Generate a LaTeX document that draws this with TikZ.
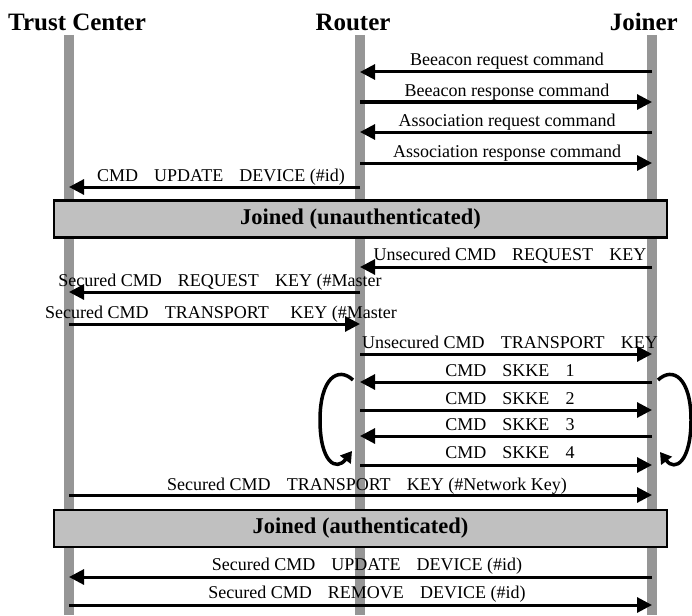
\documentclass[tikz,border=0pt]{standalone}
\usepackage{fontspec}
\setmainfont{Liberation Serif}
\usetikzlibrary{arrows.meta}
\definecolor{llgray}{RGB}{150,150,150}
\definecolor{boxgray}{RGB}{192,192,192}
\newcommand\gp{\hspace{0.9em}}
\begin{document}
\begin{tikzpicture}[x=1pt,y=-1pt,
  lifeline/.style={line width=10pt, draw=llgray},
  msg/.style={line width=3pt, -{Triangle[length=15pt,width=15pt]}},
  lab/.style={font=\fontsize{18}{20}\selectfont, anchor=base, inner sep=0pt},
  ttl/.style={font=\fontsize{25}{28}\selectfont\bfseries, anchor=base, inner sep=0pt},
  phase/.style={draw=black, line width=2.5pt, fill=boxgray, minimum width=613pt, minimum height=37pt, inner sep=0pt, font=\fontsize{22.5}{24}\selectfont\bfseries},
  cyc/.style={line width=3.5pt, -{Triangle[length=11pt,width=13pt]}}]
\useasboundingbox (0,0) rectangle (692,615);
% titles
\node[ttl, anchor=base west] (tTC) at (8,31) {Trust Center};
\node[ttl] (tR) at (353,31) {Router};
\node[ttl, anchor=base east] (tJ) at (678,31) {Joiner};
% lifelines
\coordinate (TC) at (69,35);
\coordinate (R) at (360,35);
\coordinate (J) at (652,35);
\coordinate (TCb) at (69,615);
\coordinate (Rb) at (360,615);
\coordinate (Jb) at (652,615);
\draw[lifeline] (TC) -- (TCb);
\draw[lifeline] (R) -- (Rb);
\draw[lifeline] (J) -- (Jb);
% messages
\draw[msg] (J |- 0,72) -- (R |- 0,72);
\node[lab] (l1) at (507,66) {Beeacon request command};
\draw[msg] (R |- 0,102) -- (J |- 0,102);
\node[lab] (l2) at (507,96) {Beeacon response command};
\draw[msg] (J |- 0,132) -- (R |- 0,132);
\node[lab] (l3) at (507,126) {Association request command};
\draw[msg] (R |- 0,163) -- (J |- 0,163);
\node[lab] (l4) at (507,157) {Association response command};
\draw[msg] (R |- 0,187) -- (TC |- 0,187);
\node[lab] (l5) at (221,181) {CMD\gp UPDATE\gp DEVICE (\#id)};
% phase 1
\node[phase] (p1) at (360.5,219) {Joined (unauthenticated)};
\draw[msg] (J |- 0,267) -- (R |- 0,267);
\node[lab] (l6) at (510,260) {Unsecured CMD\gp REQUEST\gp KEY};
\draw[msg] (R |- 0,292) -- (TC |- 0,292);
\node[lab] (l7) at (220,286) {Secured CMD\gp REQUEST\gp KEY (\#Master};
\draw[msg] (TC |- 0,324) -- (R |- 0,324);
\node[lab] (l8) at (221,318) {Secured CMD\gp TRANSPORT\hspace{1.2em}KEY (\#Master};
\draw[msg] (R |- 0,354) -- (J |- 0,354);
\node[lab] (l9) at (510,348) {Unsecured CMD\gp TRANSPORT\gp KEY};
\draw[msg] (J |- 0,382) -- (R |- 0,382);
\node[lab] (l10) at (510,376) {CMD\gp SKKE\gp 1};
\draw[msg] (R |- 0,410) -- (J |- 0,410);
\node[lab] (l11) at (510,404) {CMD\gp SKKE\gp 2};
\draw[msg] (J |- 0,436) -- (R |- 0,436);
\node[lab] (l12) at (510,430) {CMD\gp SKKE\gp 3};
\draw[msg] (R |- 0,465) -- (J |- 0,465);
\node[lab] (l13) at (510,458) {CMD\gp SKKE\gp 4};
% cycles
\coordinate (cl1) at (353,380);
\coordinate (cl2) at (352,451);
\coordinate (cr1) at (658,380);
\coordinate (cr2) at (660,452);
\draw[cyc] (cl1) .. controls (338,366) and (320,378) .. (320,420) .. controls (320,462) and (336,472) .. (cl2);
\draw[cyc] (cr1) .. controls (673,366) and (691,378) .. (691,420) .. controls (691,462) and (675,472) .. (cr2);
\draw[msg] (TC |- 0,495) -- (J |- 0,495);
\node[lab] (l14) at (367,490) {Secured CMD\gp TRANSPORT\gp KEY (\#Network Key)};
% phase 2
\node[phase] (p2) at (360.5,528.5) {Joined (authenticated)};
\draw[msg] (J |- 0,577) -- (TC |- 0,577);
\node[lab] (l15) at (367,570) {Secured CMD\gp UPDATE\gp DEVICE (\#id)};
\draw[msg] (TC |- 0,605) -- (J |- 0,605);
\node[lab] (l16) at (367,598) {Secured CMD\gp REMOVE\gp DEVICE (\#id)};
\end{tikzpicture}
\end{document}
